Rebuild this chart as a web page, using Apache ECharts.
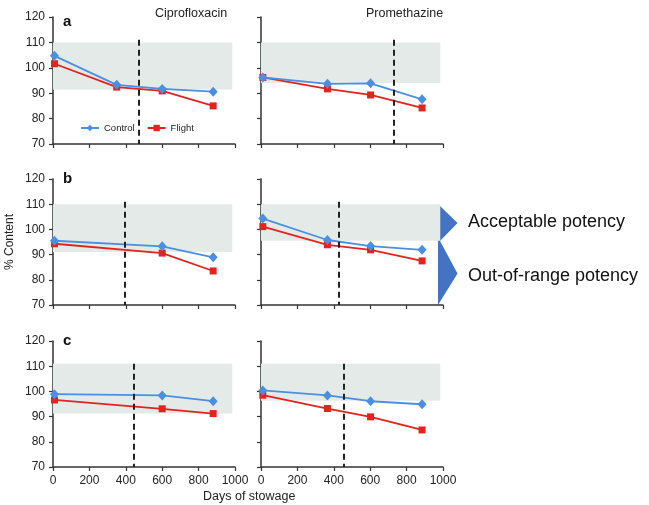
<!DOCTYPE html>
<html><head><meta charset="utf-8">
<script src="https://cdn.jsdelivr.net/npm/echarts@6/dist/echarts.min.js"></script>
<style>html,body{margin:0;padding:0;background:#fff}#c{width:649px;height:505px}</style>
</head><body><div id="c"></div>
<script>
// ---- data ----
const drugs = ['Ciprofloxacin', 'Promethazine'];
const rowLetters = ['a', 'b', 'c'];
const yTicks = [70, 80, 90, 100, 110, 120];
const xTicks = [0, 200, 400, 600, 800, 1000];

const ciproDaysA = [8, 350, 600, 880];
const ciproDaysBC = [8, 600, 880];
const promDays = [10, 365, 602, 885];

const ciproA_control = [104.7, 93.3, 91.7, 90.6];
const ciproA_flight  = [101.6, 92.4, 90.9, 85.0];
const promA_control  = [96.2, 93.7, 93.9, 87.6];
const promA_flight   = [96.2, 91.7, 89.3, 84.2];
const ciproB_control = [95.5, 93.3, 88.9];
const ciproB_flight  = [94.3, 90.6, 83.5];
const promB_control  = [104.3, 95.8, 93.4, 91.9];
const promB_flight   = [101.1, 93.9, 91.9, 87.5];
const ciproC_control = [98.9, 98.4, 96.1];
const ciproC_flight  = [96.6, 93.1, 91.2];
const promC_control  = [100.4, 98.4, 96.1, 94.9];
const promC_flight   = [98.5, 93.2, 89.9, 84.7];

// acceptable potency band [low, high]
const bandCiproA = [91.5, 110], bandPromA = [94, 110];
const bandCiproB = [91, 110],   bandPromB = [95.5, 110];
const bandCiproC = [91.2, 111], bandPromC = [96.3, 111];
// dashed reference line (days)
const dashCiproA = 469, dashPromA = 727;
const dashCiproB = 396, dashPromB = 428;
const dashCiproC = 441, dashPromC = 454;

const panels = [
  {days: ciproDaysA,  c: ciproA_control, f: ciproA_flight, band: bandCiproA, dash: dashCiproA},
  {days: promDays,    c: promA_control,  f: promA_flight,  band: bandPromA,  dash: dashPromA},
  {days: ciproDaysBC, c: ciproB_control, f: ciproB_flight, band: bandCiproB, dash: dashCiproB},
  {days: promDays,    c: promB_control,  f: promB_flight,  band: bandPromB,  dash: dashPromB},
  {days: ciproDaysBC, c: ciproC_control, f: ciproC_flight, band: bandCiproC, dash: dashCiproC},
  {days: promDays,    c: promC_control,  f: promC_flight,  band: bandPromC,  dash: dashPromC}
];

// ---- layout ----
const colLeft = [53, 261], colW = 182;
const rowTop = [17, 179, 341], rowH = [127, 126, 126];
const BLUE = '#4a8fe2', RED = '#e3231d', AXIS = '#333';
const FONT = 'Liberation Sans, Arial, sans-serif';

const grids = [], xAxes = [], yAxes = [], series = [];
panels.forEach((p, i) => {
  const r = Math.floor(i / 2), col = i % 2;
  grids.push({left: colLeft[col], top: rowTop[r], width: colW, height: rowH[r]});
  xAxes.push({
    type: 'value', gridIndex: i, min: xTicks[0], max: xTicks[xTicks.length - 1], interval: 200,
    axisLine: {show: true, lineStyle: {color: AXIS, width: 1.5}},
    axisTick: {show: true, length: 4, lineStyle: {color: AXIS, width: 1.2}},
    axisLabel: {show: r === 2, fontSize: 12, color: '#222', fontFamily: FONT, margin: 8,
      formatter: v => String(v)},
    splitLine: {show: false}
  });
  yAxes.push({
    type: 'value', gridIndex: i, min: yTicks[0], max: yTicks[yTicks.length - 1], interval: 10,
    axisLine: {show: true, lineStyle: {color: AXIS, width: 1.5}},
    axisTick: {show: true, length: 4, lineStyle: {color: AXIS, width: 1.2}},
    axisLabel: {show: col === 0, fontSize: 12, color: '#222', fontFamily: FONT, margin: 8,
      formatter: v => String(v)},
    splitLine: {show: false},
    name: (i === 2) ? '% Content' : '',
    nameLocation: 'middle', nameGap: 37, nameRotate: 90,
    nameTextStyle: {fontSize: 12, color: '#222', fontFamily: FONT}
  });
  series.push({
    name: 'Control', type: 'line', xAxisIndex: i, yAxisIndex: i,
    data: p.days.map((d, k) => [d, p.c[k]]),
    symbol: 'diamond', symbolSize: [9, 10], z: 4,
    lineStyle: {color: BLUE, width: 1.8}, itemStyle: {color: BLUE},
    markArea: {silent: true, itemStyle: {color: '#e4eae7'},
      data: [[{coord: [0, p.band[1]]}, {coord: [985, p.band[0]]}]]}
  });
  series.push({
    name: 'Flight', type: 'line', xAxisIndex: i, yAxisIndex: i,
    data: p.days.map((d, k) => [d, p.f[k]]),
    symbol: 'rect', symbolSize: 7, z: 3,
    lineStyle: {color: RED, width: 1.8}, itemStyle: {color: RED},
    markLine: {silent: true, symbol: 'none', label: {show: false},
      lineStyle: {color: '#222', type: [6, 4], width: 2},
      data: [[{coord: [p.dash, 111]}, {coord: [p.dash, 70]}]]}
  });
});

const chart = echarts.init(document.getElementById('c'), null, {renderer: 'canvas'});
chart.setOption({
  backgroundColor: '#fff',
  animation: false,
  grid: grids, xAxis: xAxes, yAxis: yAxes, series: series,
  legend: {
    data: ['Control', 'Flight'], left: 75, top: 118, itemWidth: 18, itemHeight: 8, itemGap: 12,
    textStyle: {fontSize: 9.5, color: '#222', fontFamily: FONT}
  },
  title: [
    {text: drugs[0], left: 150, top: 2, textStyle: {fontSize: 12.5, fontWeight: 'normal', color: '#222', fontFamily: FONT}},
    {text: drugs[1], left: 361, top: 2, textStyle: {fontSize: 12.5, fontWeight: 'normal', color: '#222', fontFamily: FONT}},
    {text: rowLetters[0], left: 58, top: 9, textStyle: {fontSize: 15, fontWeight: 'bold', color: '#111', fontFamily: FONT}},
    {text: rowLetters[1], left: 58, top: 166, textStyle: {fontSize: 15, fontWeight: 'bold', color: '#111', fontFamily: FONT}},
    {text: rowLetters[2], left: 58, top: 328, textStyle: {fontSize: 15, fontWeight: 'bold', color: '#111', fontFamily: FONT}}
  ],
  graphic: [
    {type: 'text', left: 203, top: 490, style: {text: 'Days of stowage', fill: '#222', font: '12.5px Liberation Sans, Arial, sans-serif'}},
    {type: 'polygon', shape: {points: [[438, 204], [457.5, 223], [440, 241], [457.5, 273.5], [438, 305]]}, style: {fill: '#4472c4'}},
    {type: 'text', left: 468, top: 213, style: {text: 'Acceptable potency', fill: '#111', font: '18px Liberation Sans, Arial, sans-serif'}},
    {type: 'text', left: 468, top: 267, style: {text: 'Out-of-range potency', fill: '#111', font: '18px Liberation Sans, Arial, sans-serif'}}
  ]
});
</script></body></html>
